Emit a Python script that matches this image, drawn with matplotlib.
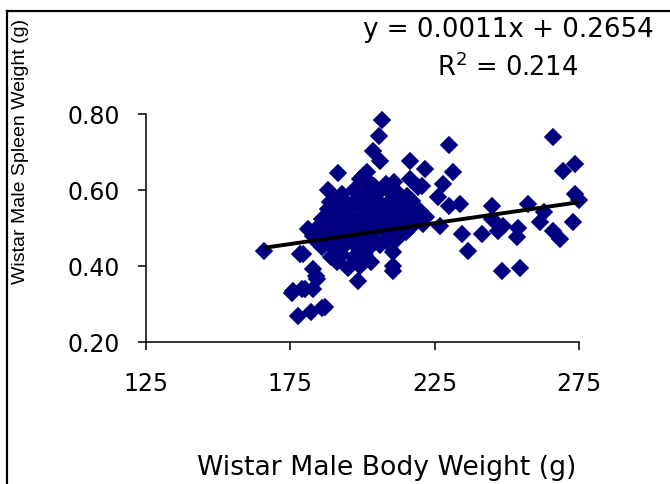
import matplotlib
matplotlib.use("Agg")
import matplotlib.pyplot as plt
from matplotlib.lines import Line2D

plt.rcParams['font.family'] = ['DejaVu Sans']

# ---- data ----
body_weight = [
    166.0, 179.5, 181.0, 175.5, 179.0, 183.0, 177.5, 182.0, 186.0, 184.0,
    188.0, 191.5, 198.5, 206.7, 205.7, 203.6, 206.0, 200.0, 202.0, 216.4,
    221.6, 216.4, 220.6, 230.0, 231.3, 227.8, 226.0, 230.0, 233.9, 226.8,
    234.5, 236.5, 241.4, 244.8, 245.0, 247.0, 248.7, 248.3, 254.5, 253.8,
    253.5, 257.3, 263.0, 261.5, 266.0, 268.4, 266.0, 269.5, 273.6, 273.6,
    273.0, 210.6, 210.6, 210.6, 212.0, 213.0, 215.4, 219.2, 213.0,
    182.8, 184.2, 176.0, 180.0, 187.0, 178.4, 188.7, 189.8, 193.4, 198.0,
    199.0, 201.5, 275.0,
    193.0, 197.0, 201.0, 205.0, 209.0, 212.0,
    190.0, 194.0, 198.0, 202.0, 206.0, 210.0, 214.0, 217.0,
    188.0, 192.0, 196.0, 200.0, 204.0, 208.0, 212.0, 216.0, 220.0,
    186.0, 190.0, 194.0, 198.0, 202.0, 206.0, 210.0, 214.0, 218.0, 222.0,
    185.0, 189.0, 193.0, 197.0, 201.0, 205.0, 209.0, 213.0, 217.0, 221.0,
    187.0, 191.0, 195.0, 199.0, 203.0, 207.0, 211.0, 215.0,
    184.0, 188.0, 192.0, 196.0, 200.0, 204.0, 208.0, 212.0,
    186.0, 190.0, 194.0, 198.0, 202.0, 206.0,
    189.0, 193.0, 197.0, 201.0,
    191.0, 195.0, 199.0, 203.0, 183.0, 208.0, 211.0, 204.0,
]
spleen_weight = [
    0.440, 0.432, 0.497, 0.330, 0.340, 0.340, 0.268, 0.279, 0.290, 0.374,
    0.600, 0.645, 0.360, 0.784, 0.742, 0.703, 0.676, 0.637, 0.624, 0.676,
    0.655, 0.630, 0.610, 0.718, 0.647, 0.616, 0.582, 0.558, 0.563, 0.505,
    0.484, 0.440, 0.484, 0.558, 0.524, 0.492, 0.505, 0.387, 0.395, 0.500,
    0.476, 0.563, 0.542, 0.516, 0.492, 0.471, 0.740, 0.650, 0.668, 0.590,
    0.516, 0.400, 0.387, 0.437, 0.470, 0.568, 0.584, 0.608, 0.576,
    0.392, 0.366, 0.334, 0.340, 0.292, 0.432, 0.568, 0.537, 0.576, 0.576,
    0.630, 0.647, 0.575,
    0.590, 0.600, 0.595, 0.590, 0.600, 0.595,
    0.570, 0.565, 0.575, 0.570, 0.565, 0.575, 0.560, 0.570,
    0.550, 0.545, 0.555, 0.550, 0.545, 0.550, 0.545, 0.550, 0.545,
    0.525, 0.530, 0.535, 0.525, 0.530, 0.535, 0.525, 0.530, 0.525, 0.530,
    0.505, 0.510, 0.505, 0.515, 0.505, 0.510, 0.505, 0.515, 0.505, 0.510,
    0.490, 0.485, 0.495, 0.485, 0.490, 0.495, 0.485, 0.490,
    0.465, 0.470, 0.465, 0.475, 0.465, 0.470, 0.465, 0.475,
    0.450, 0.445, 0.455, 0.450, 0.445, 0.455,
    0.425, 0.430, 0.425, 0.430,
    0.410, 0.395, 0.400, 0.410, 0.480, 0.615, 0.620, 0.610,
]

trend_slope = 0.0011
trend_intercept = 0.2654
trend_r2 = 0.214

x_ticks = [125, 175, 225, 275]
y_ticks = [0.20, 0.40, 0.60, 0.80]

x_label = "Wistar Male Body Weight (g)"
y_label = "Wistar Male Spleen Weight (g)"

# ---- figure ----
fig = plt.figure(figsize=(6.7, 4.85), dpi=100)
ax = fig.add_axes([146 / 670, 1 - 343 / 485, (579 - 146) / 670, (343 - 115) / 485])

ax.plot(body_weight, spleen_weight, linestyle='none', marker='D',
        markersize=8, color='#000080', markeredgecolor='#000080',
        markeredgewidth=1.2, clip_on=False, zorder=2)

x0, x1 = min(body_weight), max(body_weight)
ax.plot([x0, x1],
        [trend_slope * x0 + trend_intercept, trend_slope * x1 + trend_intercept],
        color='black', linewidth=2.8, zorder=3, solid_capstyle='butt')

ax.set_xlim(x_ticks[0], x_ticks[-1])
ax.set_ylim(y_ticks[0], y_ticks[-1])
ax.set_xticks(x_ticks)
ax.set_xticklabels([str(v) for v in x_ticks])
ax.set_yticks(y_ticks)
ax.set_yticklabels([f"{v:.2f}" for v in y_ticks])

for s in ['top', 'right']:
    ax.spines[s].set_visible(False)
for s in ['left', 'bottom']:
    ax.spines[s].set_linewidth(1.1)
    ax.spines[s].set_color('black')

ax.tick_params(axis='both', direction='out', length=6, width=1.1,
               labelsize=17, colors='black')
ax.tick_params(axis='x', pad=15)
ax.tick_params(axis='y', pad=13)

fig.text(387 / 670, 1 - 468 / 485, x_label, ha='center', va='center', fontsize=19.2)
fig.text(21 / 670, 1 - 151 / 485, y_label, ha='center', va='center',
         rotation=90, fontsize=14, family=['Liberation Sans', 'DejaVu Sans'])

fig.text(508 / 670, 1 - 30 / 485,
         f"y = {trend_slope:.4f}x + {trend_intercept:.4f}",
         ha='center', va='center', fontsize=18.8)
fig.text(508 / 670, 1 - 68 / 485, f"R$^2$ = {trend_r2:.3f}",
         ha='center', va='center', fontsize=18.5)

# outer frame (left and top edges visible)
fig.add_artist(Line2D([7 / 670, 7 / 670], [0, 1 - 12 / 485],
                      transform=fig.transFigure, color='black', linewidth=1.6))
fig.add_artist(Line2D([7 / 670, 1], [1 - 12 / 485, 1 - 12 / 485],
                      transform=fig.transFigure, color='black', linewidth=1.6))

fig.savefig("out.png", dpi=100)
